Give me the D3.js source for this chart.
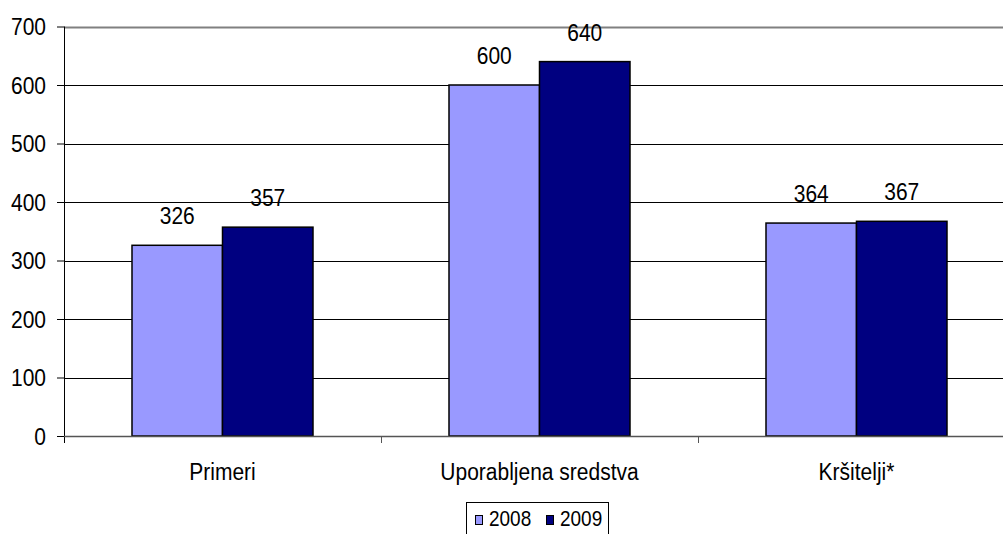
<!DOCTYPE html>
<html><head><meta charset="utf-8">
<script src="https://cdn.jsdelivr.net/npm/d3@7"></script>
<style>body{margin:0;background:#fff;overflow:hidden}svg{display:block;font-family:"Liberation Sans",Arial,sans-serif}</style>
</head><body>
<svg id="c" width="1003" height="534"></svg>
<script>
const categories = ["Primeri", "Uporabljena sredstva", "Kršitelji*"];
const seriesNames = ["2008", "2009"];
const values2008 = [326, 600, 364];
const values2009 = [357, 640, 367];
const yTicks = [0, 100, 200, 300, 400, 500, 600, 700];
const colors = ["#9999ff", "#000080"];

(function () {
const SY = 1.12; // vertical stretch of the reference's text
const FONT = "Liberation Sans, Arial, sans-serif";
const svg = d3.select("#c");
const pL = 64, pR = 1015, pT = 26.5, pB = 436;
const x = d3.scaleBand().domain(categories).range([pL, pR]).paddingInner(0).paddingOuter(0);
const y = d3.scaleLinear().domain([0, 700]).range([pB, pT]);
const barW = x.bandwidth() * 0.2855;

function stretchText(sel, tx, ty) {
  sel.attr("x", 0).attr("y", 0).attr("dy", 0)
    .attr("transform", `translate(${tx},${ty}) scale(1,${SY})`);
}

// gridlines
svg.append("g").selectAll("line").data(yTicks.filter(d => d > 0)).join("line")
  .attr("x1", pL).attr("x2", 1003)
  .attr("y1", d => Math.round(y(d)) + 0.5).attr("y2", d => Math.round(y(d)) + 0.5)
  .attr("stroke", d => d === 700 ? "#808080" : "#000").attr("stroke-width", d => d === 700 ? 2 : 1);

// y axis
const ya = svg.append("g").attr("transform", `translate(${pL},0)`)
  .call(d3.axisLeft(y).tickValues(yTicks).tickSize(7).tickPadding(11));
ya.select(".domain").remove();
ya.selectAll(".tick line").attr("stroke", "#000");
const ytx = ya.selectAll("text").attr("font-size", 21).attr("fill", "#000").attr("font-family", FONT)
  .attr("text-anchor", "end");
stretchText(ytx, -18, 8);
svg.append("line").attr("x1", pL + 0.5).attr("x2", pL + 0.5).attr("y1", pT).attr("y2", pB + 7)
  .attr("stroke", "#000").attr("stroke-width", 1);

// bars
const data = categories.map((c, i) => ({c, vals: [values2008[i], values2009[i]]}));
const g = svg.append("g");
data.forEach(d => {
  const cx = x(d.c) + x.bandwidth() / 2;
  d.vals.forEach((v, j) => {
    const bx = cx - barW + j * barW;
    g.append("rect").attr("x", bx).attr("y", y(v)).attr("width", barW).attr("height", pB - y(v))
      .attr("fill", colors[j]).attr("stroke", "#000").attr("stroke-width", 1.5);
    g.append("text").attr("transform", `translate(${bx + barW / 2},${y(v) - 21}) scale(1,${SY})`)
      .attr("text-anchor", "middle").attr("font-size", 21).attr("fill", "#000").text(v);
  });
});

// x axis
svg.append("line").attr("x1", pL).attr("x2", 1003).attr("y1", pB + 0.5).attr("y2", pB + 0.5)
  .attr("stroke", "#555").attr("stroke-width", 1.5);
const xa = svg.append("g").attr("transform", `translate(0,${pB})`)
  .call(d3.axisBottom(x).tickSize(0).tickPadding(0));
xa.select(".domain").remove();
const xtx = xa.selectAll("text").attr("font-size", 21).attr("fill", "#000").attr("font-family", FONT);
stretchText(xtx, 0, 44);
svg.append("g").selectAll("line").data(categories.slice(1)).join("line")
  .attr("x1", d => Math.round(x(d)) + 0.5).attr("x2", d => Math.round(x(d)) + 0.5)
  .attr("y1", pB).attr("y2", pB + 7).attr("stroke", "#555");

// legend
const lg = svg.append("g");
lg.append("rect").attr("x", 466.5).attr("y", 502.5).attr("width", 142).attr("height", 40)
  .attr("fill", "#fff").attr("stroke", "#000").attr("stroke-width", 1);
const legendX = [475, 546];
seriesNames.forEach((s, i) => {
  lg.append("rect").attr("x", legendX[i] + 0.5).attr("y", 515.5).attr("width", 7).attr("height", 9)
    .attr("fill", colors[i]).attr("stroke", "#000").attr("stroke-width", 1);
  lg.append("text").attr("transform", `translate(${legendX[i] + 14},525.5) scale(1,${SY})`)
    .attr("font-size", 19).attr("fill", "#000").text(s);
});
})();
</script>
</body></html>
